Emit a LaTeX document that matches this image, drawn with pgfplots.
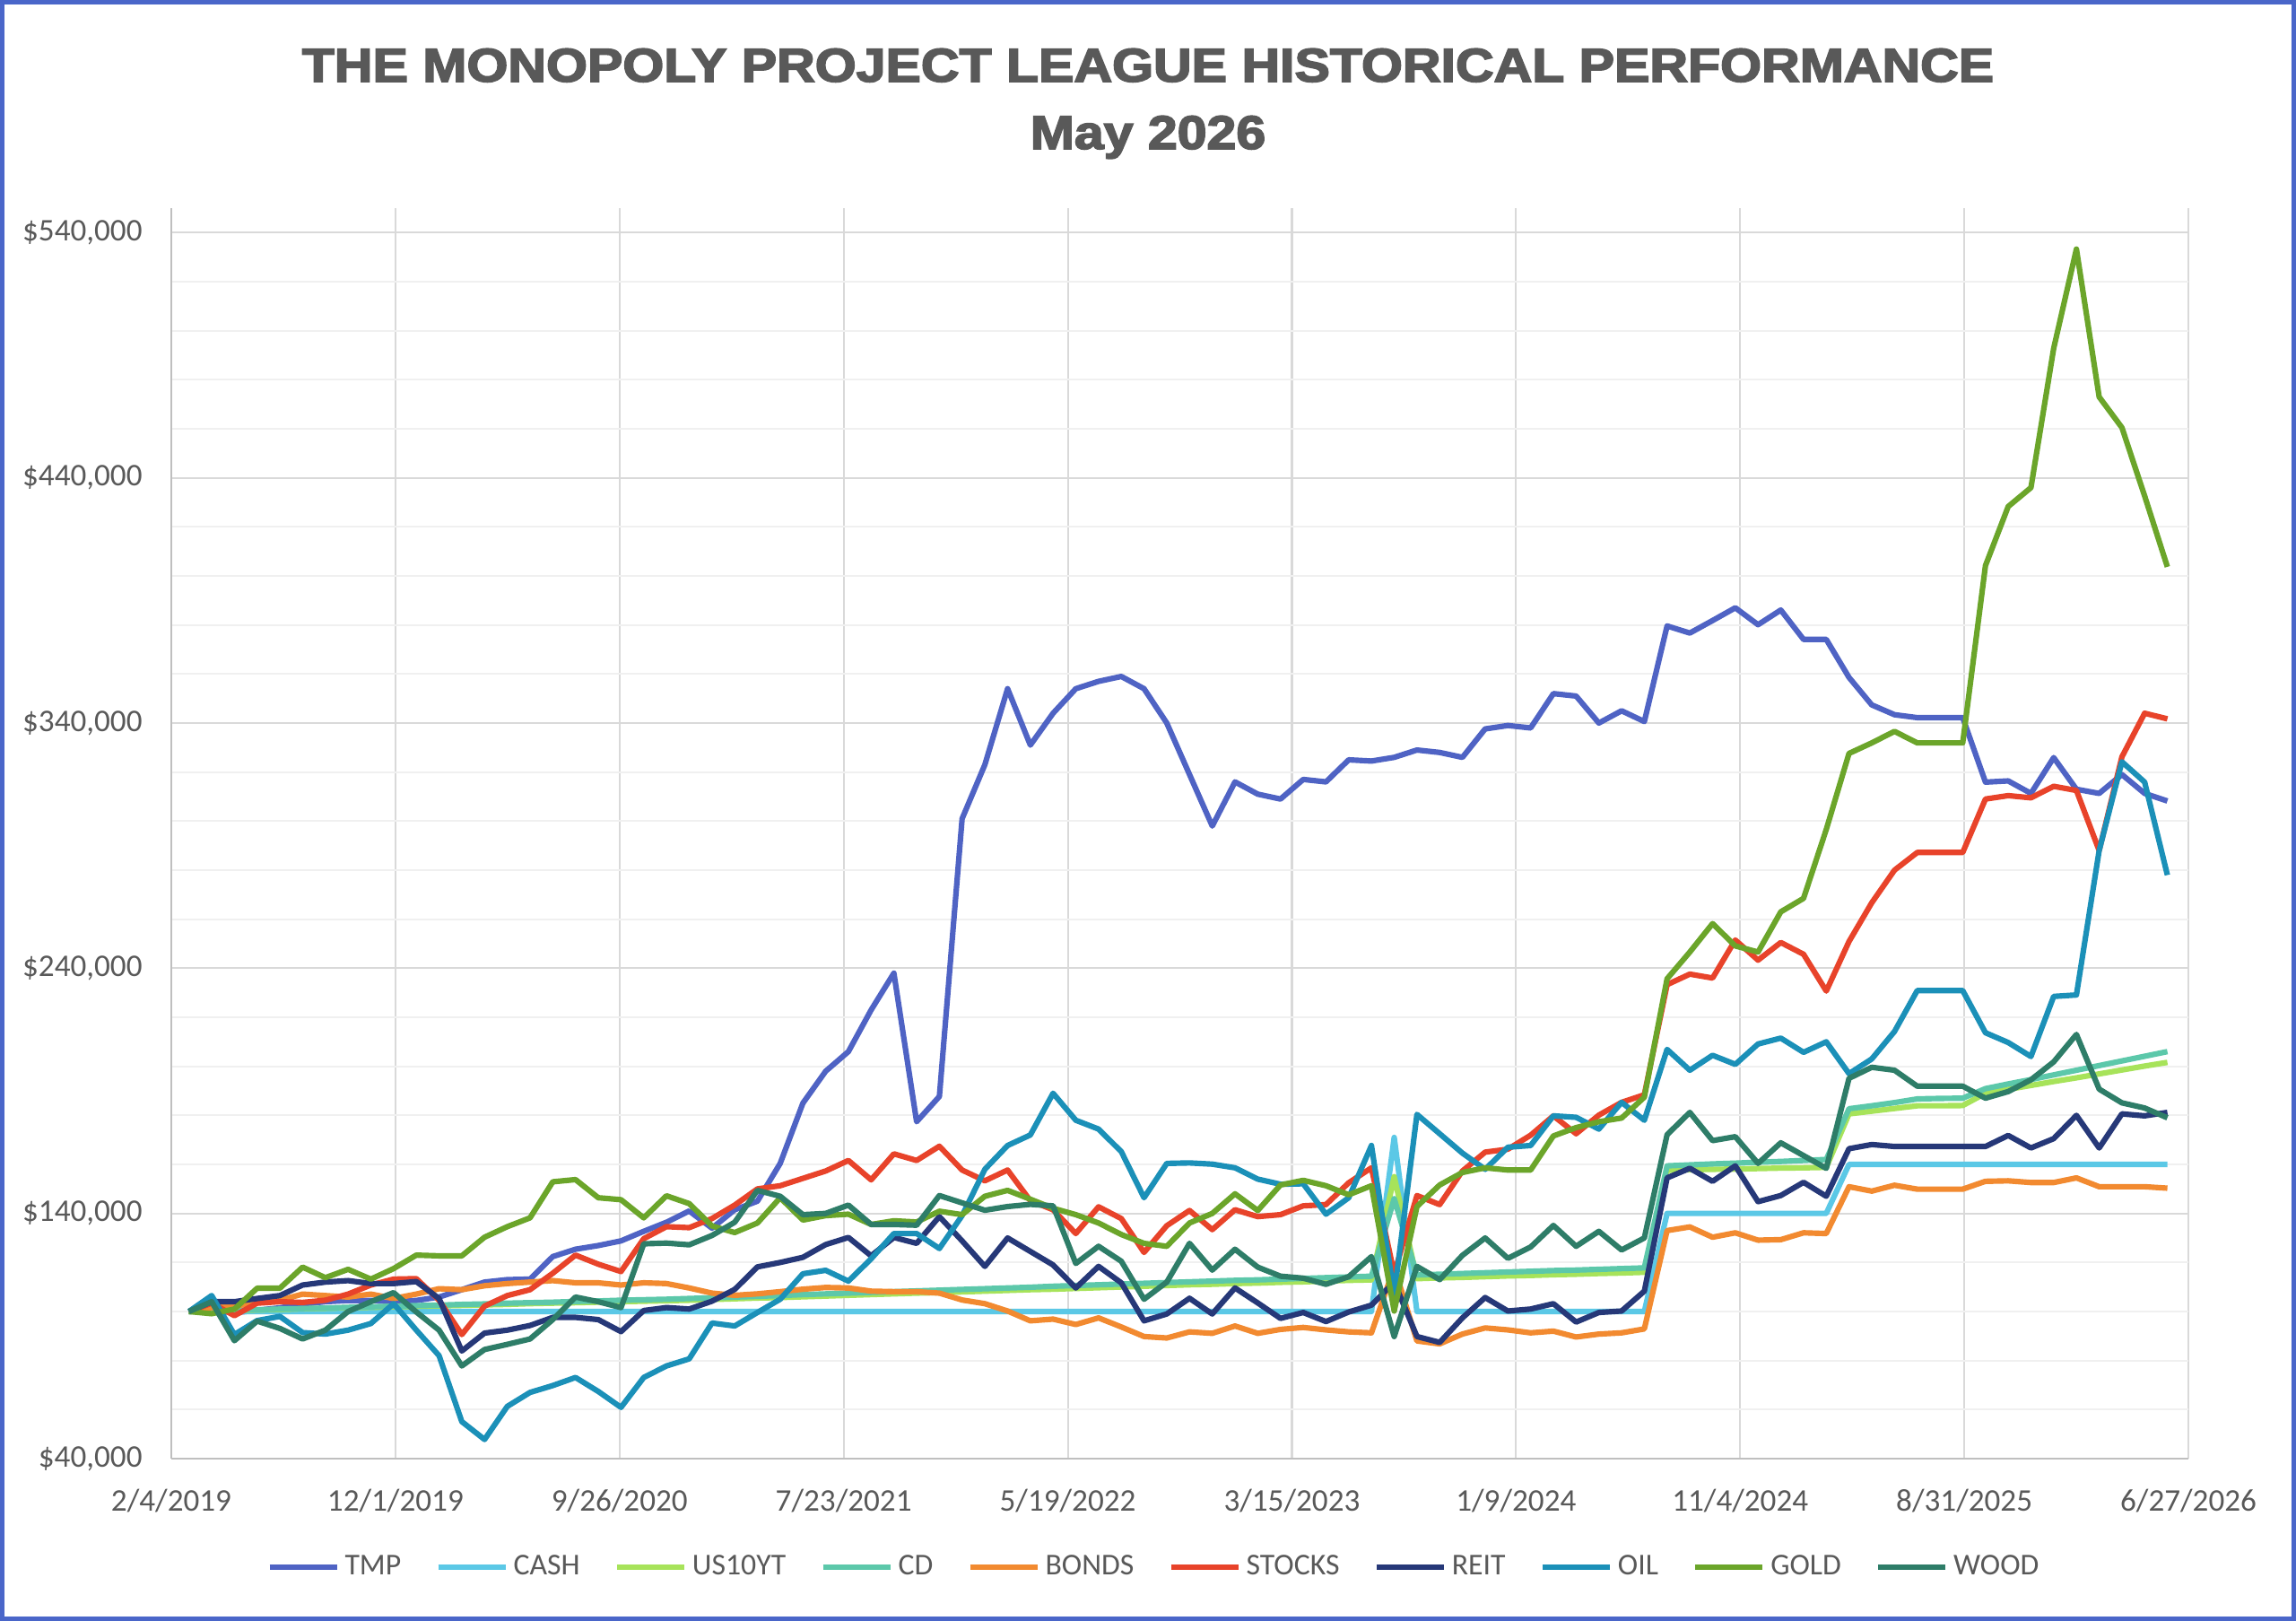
\documentclass[border=0pt]{standalone}
\usepackage{fontspec}
\setmainfont{Carlito}
\newfontface\titlefont{Liberation Sans Bold}[FakeBold=3]
\usepackage{pgfplots}
\pgfplotsset{compat=1.18}
\usepackage{pgfplotstable}
\definecolor{cTMP}{HTML}{4F63C4}
\definecolor{cCASH}{HTML}{5BC8E6}
\definecolor{cUS}{HTML}{A7E35A}
\definecolor{cCD}{HTML}{5CC8AA}
\definecolor{cBONDS}{HTML}{F28A30}
\definecolor{cSTOCKS}{HTML}{E8432A}
\definecolor{cREIT}{HTML}{263878}
\definecolor{cOIL}{HTML}{1B90B8}
\definecolor{cGOLD}{HTML}{6BA52A}
\definecolor{cWOOD}{HTML}{2E7D68}
\definecolor{border}{HTML}{4A66C9}
\definecolor{titlegray}{HTML}{595959}
\definecolor{labelgray}{HTML}{595959}
\definecolor{gridmaj}{HTML}{D9D9D9}
\definecolor{gridmin}{HTML}{F0F0F0}
\definecolor{axisgray}{HTML}{BFBFBF}

\pgfplotstableread{
i tmp cash us cd bonds stocks reit oil gold wood
0 100 100 100.0 100.0 100 100 100 100 100 100
1 100.5 100 100.2 100.2 101.6 103.4 104 106.5 99.1 104
2 99.5 100 100.4 100.5 102.2 98.3 104 90.6 101 88.1
3 100.5 100 100.6 100.7 103.7 103.4 105.3 96.3 109.5 96.1
4 101.5 100 100.8 101.0 104.6 104 106.5 98 109.5 93.1
5 103 100 101.1 101.2 107.1 103.7 110.8 91.4 118.1 88.8
6 104 100 101.3 101.4 106.5 104.6 112 90.8 113.8 92.4
7 104.5 100 101.5 101.7 105.9 107.1 112.6 92.4 117.2 100
8 104.5 100 101.7 101.9 107.1 110.8 111.4 95.1 113.2 104
9 104 100 101.9 102.2 105.3 113.2 111.4 103.2 117.5 107.7
10 104.5 100 102.1 102.4 107.1 113.4 112.2 92.4 123 99.8
11 105.9 100 102.3 102.6 109.3 104.6 105.3 82 122.7 92.4
12 108.9 100 102.5 102.9 108.9 90.6 83.9 55.1 122.7 77.8
13 112 100 102.7 103.1 110.5 102.2 91.2 47.8 130.3 84.5
14 113 100 102.9 103.4 111.4 106.5 92.4 61.3 134.6 86.6
15 113.2 100 103.2 103.6 112 108.9 94.3 67 138.2 88.8
16 122.4 100 103.4 103.8 112.6 115.6 97.6 69.8 152.9 96.7
17 125.4 100 103.6 104.1 111.7 123 97.6 73.1 153.8 105.9
18 126.9 100 103.8 104.3 111.7 119.3 96.7 67.4 146.4 104
19 128.8 100 104.0 104.6 110.8 116.3 91.8 60.9 145.6 101.6
20 132.7 100 104.2 104.8 111.7 129.7 100.4 73.1 138.2 127.6
21 136.4 100 104.4 105.0 111.4 134.6 101.6 77.8 147.2 127.9
22 141 100 104.6 105.3 109.6 134.2 101 80.7 144 127.2
23 134 100 104.9 105.6 107.5 137.9 104.2 95.3 134.9 131
24 141.5 100 105.2 105.9 106.6 143.4 109 94.1 132.2 136.4
25 145 100 105.5 106.2 107.2 150 118.2 99.6 136.1 149.4
26 160.4 100 105.7 106.5 108.1 151.3 120 105 146.4 147
27 185 100 106.0 106.9 109.1 154.3 122.1 115.4 137.3 139.5
28 198 100 106.3 107.2 109.8 157.3 127.3 116.8 139.1 140
29 206 100 106.6 107.5 109.6 161.6 130.2 112.4 139.7 143.4
30 223 100 106.9 107.8 108.3 153.7 122.7 121.5 135.5 135.5
31 238 100 107.2 108.1 108.1 164.3 130.2 131.8 137 135.5
32 177.4 100 107.5 108.4 108.1 161.6 127.8 131.8 136.5 135.2
33 187.7 100 107.7 108.7 107.5 167.4 138.7 125.7 140.9 147.3
34 301 100 108.0 109.0 104.7 157.7 128.8 139.1 139.5 144.3
35 323 100 108.3 109.3 103.2 153.3 118.4 158 147 141.3
36 354 100 108.6 109.6 100.2 157.7 130 167.7 149.4 142.8
37 331 100 108.9 109.9 96.2 145.2 124.5 172 145.8 143.7
38 344 100 109.1 110.3 96.9 141.5 119 189 142.1 143.1
39 354 100 109.4 110.6 94.7 131.8 109.6 178 139.5 119.6
40 357 100 109.7 110.9 97.4 142.7 118.4 174.4 136.1 126.6
41 359 100 110.0 111.2 93.7 137.9 111.7 165.2 131.4 120.5
42 354 100 110.3 111.5 89.8 124.1 96.2 146.4 127.8 105
43 340 100 110.6 111.8 89.2 135 99 160.4 126.6 112
44 319 100 110.9 112.1 91.7 141.2 105.4 160.6 136.1 127.8
45 298 100 111.1 112.4 91.1 133.4 99 160.1 140 116.9
46 316 100 111.4 112.7 94.1 141.5 109.6 158.6 148 125.4
47 311 100 111.6 112.9 91.1 138.7 103.5 154 141.2 118.1
48 309 100 111.9 113.2 92.7 139.5 97.2 151.9 151.6 114.4
49 317 100 112.1 113.5 93.5 143.1 99.6 152.1 153.5 113.6
50 316 100 112.4 113.8 92.5 143.6 95.9 139.7 151.3 111.1
51 325 100 112.7 114.1 91.7 152.5 99.8 146.4 147.6 114.2
52 324.5 100 112.9 114.4 91.3 158.6 102.6 167.7 151.3 122.4
53 326 171 155 146 118 115.4 112 106.9 100.2 89.8
54 329 100 113.4 114.9 88 147.3 89.8 180.4 142.8 118.4
55 328 100 113.7 115.2 86.8 143.6 87.4 172.5 151.6 113
56 326 100 113.9 115.5 90.8 157.3 97.4 164.6 156.7 122.9
57 337.6 100 114.2 115.8 93.3 165 105.7 158 158.6 130
58 339 100 114.5 116.1 92.5 166.2 100.2 167 157.7 121.7
59 338 100 114.7 116.4 91.3 171.9 101 167.7 157.7 126.3
60 352 100 115.0 116.7 92 179.8 103.2 179.8 171.6 135.1
61 351 100 115.2 116.9 89.6 172.5 95.7 179.2 175 126.6
62 340 100 115.5 117.2 90.8 180.1 99.6 174.4 177.4 132.7
63 345 100 115.7 117.5 91.3 185.3 100.2 185.3 178.9 125.1
64 340.6 100 116.0 117.8 92.9 188.4 108.3 178 187.4 130
65 379.6 140 157.6 159.4 133 233.3 154.5 206.9 235.7 172.1
66 376.7 140 157.8 159.8 134.5 237.6 158.4 198.4 246.6 181.2
67 381.8 140 158.0 160.2 130.3 236 153.1 204.5 258.2 169.7
68 387 140 158.1 160.5 132.1 251.5 159.4 200.8 249.1 171.3
69 380.1 140 158.3 160.9 129.1 243.3 144.8 209.1 246.6 160.4
70 386.1 140 158.5 161.2 129.3 250.5 147.3 211.5 263 168.8
71 374.1 140 158.6 161.6 132.1 245.7 152.7 205.7 268.5 163.6
72 374.1 140 158.8 162.0 131.8 230.7 147 210 296.6 158.4
73 358.6 160 180.6 182.7 150.9 250.9 166.4 197 327.6 195.1
74 347.4 160 181.7 183.9 149.1 266.7 168.1 203 331.9 199.6
75 343.4 160 182.8 185.2 151.5 280 167.3 214.2 336.6 198.4
76 342.2 160 183.9 186.7 149.9 287.2 167.3 230.9 331.9 191.9
77 342.2 160 183.9 186.9 149.9 287.2 167.3 230.9 331.9 191.9
78 342.2 160 184.0 187.0 149.9 287.2 167.3 230.9 331.9 191.9
79 315.9 160 189.0 190.9 153.1 309 167.3 213.7 404.2 187
80 316.4 160 190.6 192.8 153.3 310.4 171.8 209.7 428.3 189.7
81 311.3 160 192.2 194.6 152.6 309.5 166.7 204 436 194.5
82 325.9 160 193.8 196.5 152.6 314.2 170.5 228.5 492.8 201.8
83 313 160 195.3 198.4 154.5 312.5 180 229.1 533.3 213
84 311.3 160 196.9 200.3 150.9 288 166.7 288 473 190.7
85 319 160 198.5 202.2 150.9 326.2 180.6 324.2 460.5 185.1
86 311.3 160 200.1 204.1 150.9 344 179.8 315.9 432.6 183
87 308.2 160 201.6 206.0 150.3 341.7 181.2 278 403.7 179
}\perf

\begin{document}
\begin{tikzpicture}
\fill[white] (0,0) rectangle (256mm,180.7mm);
\draw[border, line width=0.5mm] (0.25mm,0.25mm) rectangle (255.75mm,180.45mm);
\node[anchor=base, inner sep=0pt, text=titlegray, font=\titlefont\fontsize{15}{18}\selectfont]
  at (128mm,171.6mm) {\scalebox{1.12}[1]{THE MONOPOLY PROJECT LEAGUE HISTORICAL PERFORMANCE}};
\node[anchor=base, inner sep=0pt, text=titlegray, font=\titlefont\fontsize{15}{18}\selectfont]
  at (128mm,164.1mm) {\scalebox{1.12}[1]{May 2026}};
\begin{axis}[
  at={(19.1mm,18.1mm)}, anchor=south west,
  width=224.9mm, height=139.4mm, scale only axis,
  xmin=-0.775, xmax=87.924, ymin=40, ymax=550,
  xtick={-0.775,9.080,18.936,28.791,38.647,48.502,58.358,68.213,78.069,87.924},
  xticklabels={2/4/2019,12/1/2019,9/26/2020,7/23/2021,5/19/2022,3/15/2023,1/9/2024,11/4/2024,8/31/2025,6/27/2026},
  ytick={40,140,240,340,440,540},
  yticklabels={{\$40,000},{\$140,000},{\$240,000},{\$340,000},{\$440,000},{\$540,000}},
  minor ytick={60,80,100,120,160,180,200,220,260,280,300,320,360,380,400,420,460,480,500,520},
  xmajorgrids, ymajorgrids, yminorgrids,
  major grid style={draw=gridmaj, line width=0.6pt},
  minor grid style={draw=gridmin, line width=0.6pt},
  axis x line*=bottom, axis y line*=left,
  axis line style={draw=axisgray, line width=0.8pt, -},
  major tick length=0pt, minor tick length=0pt,
  tick label style={font=\fontsize{10}{12}\selectfont, text=labelgray},
  xticklabel style={yshift=-2.2mm},
  yticklabel style={xshift=-2mm},
  legend columns=10,
  legend style={at={(0.487,-0.087)}, anchor=center, draw=none, fill=none,
    font=\fontsize{9.6}{12}\selectfont, text=labelgray,
    /tikz/every odd column/.append style={column sep=0.4mm},
    /tikz/every even column/.append style={column sep=3.65mm},
    nodes={inner xsep=0.5pt}},
  legend image code/.code={\draw[#1, line width=1.8pt] (0mm,0mm) -- (7.5mm,0mm);},
  every axis plot/.append style={no marks, line width=1.75pt, line join=round},
]
\addplot[cTMP] table[x=i, y=tmp] {\perf}; \addlegendentry{TMP}
\addplot[cCASH] table[x=i, y=cash] {\perf}; \addlegendentry{CASH}
\addplot[cUS] table[x=i, y=us] {\perf}; \addlegendentry{US10YT}
\addplot[cCD] table[x=i, y=cd] {\perf}; \addlegendentry{CD}
\addplot[cBONDS] table[x=i, y=bonds] {\perf}; \addlegendentry{BONDS}
\addplot[cSTOCKS] table[x=i, y=stocks] {\perf}; \addlegendentry{STOCKS}
\addplot[cREIT] table[x=i, y=reit] {\perf}; \addlegendentry{REIT}
\addplot[cOIL] table[x=i, y=oil] {\perf}; \addlegendentry{OIL}
\addplot[cGOLD] table[x=i, y=gold] {\perf}; \addlegendentry{GOLD}
\addplot[cWOOD] table[x=i, y=wood] {\perf}; \addlegendentry{WOOD}
\end{axis}
\end{tikzpicture}
\end{document}
